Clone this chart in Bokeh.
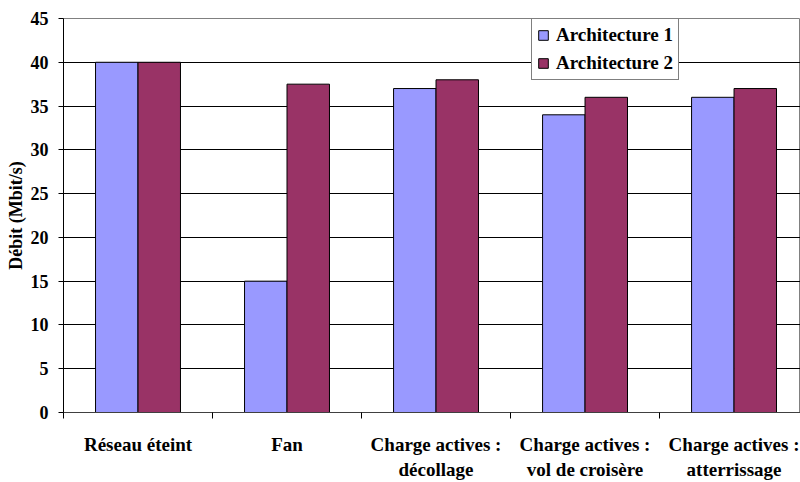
from bokeh.plotting import figure
from bokeh.models import ColumnDataSource, FixedTicker, Legend, LegendItem, Range1d
from bokeh.transform import dodge
from bokeh.embed import file_html
from bokeh.resources import INLINE

categories = ["Réseau éteint", "Fan", "Charge actives :\ndécollage",
              "Charge actives :\nvol de croisère", "Charge actives :\natterrissage"]
arch1 = [40, 15, 37, 34, 36]
arch2 = [40, 37.5, 38, 36, 37]
y_ticks = [0, 5, 10, 15, 20, 25, 30, 35, 40, 45]

FONT = "Liberation Serif"
idx = list(range(len(categories)))
src = ColumnDataSource(dict(x=idx, a1=arch1, a2=arch2))

p = figure(width=800, height=482, output_backend="svg", toolbar_location=None,
           x_range=Range1d(-0.5, 4.446), y_range=Range1d(0, 45),
           min_border_left=63, min_border_right=0, min_border_top=18, min_border_bottom=70)
p.background_fill_color = "white"
p.border_fill_color = "white"
p.outline_line_color = "#808080"

bw = 0.285
r1 = p.vbar(x=dodge("x", -bw / 2, range=p.x_range), top="a1", width=bw, source=src,
            fill_color="#9999FF", line_color="black", line_width=1)
r2 = p.vbar(x=dodge("x", bw / 2, range=p.x_range), top="a2", width=bw, source=src,
            fill_color="#993366", line_color="black", line_width=1)

# grid
p.xgrid.visible = False
p.ygrid.ticker = FixedTicker(ticks=y_ticks[1:-1])
p.ygrid.grid_line_color = "black"
p.ygrid.grid_line_width = 1
p.ygrid.level = "underlay"

# y axis
p.yaxis.ticker = FixedTicker(ticks=y_ticks)
p.yaxis.axis_label = "Débit (Mbit/s)"
p.yaxis.axis_label_text_font = FONT
p.yaxis.axis_label_text_font_style = "bold"
p.yaxis.axis_label_text_font_size = "18px"
p.yaxis.axis_label_standoff = 2
p.yaxis.major_label_text_font = FONT
p.yaxis.major_label_text_font_style = "bold"
p.yaxis.major_label_text_font_size = "18px"
p.yaxis.major_label_standoff = 10
p.yaxis.major_tick_in = 0
p.yaxis.major_tick_out = 5
p.yaxis.minor_tick_line_color = None
p.yaxis.axis_line_color = "black"
p.yaxis.major_tick_line_color = "black"
p.yaxis.major_label_text_color = "black"
p.yaxis.axis_label_text_color = "black"

# x axis
p.xaxis.ticker = FixedTicker(ticks=idx, minor_ticks=[i - 0.5 for i in idx] + [len(idx) - 0.5])
p.xaxis.major_label_overrides = {i: c for i, c in enumerate(categories)}
p.xaxis.major_tick_line_color = None
p.xaxis.minor_tick_in = 0
p.xaxis.minor_tick_out = 6
p.xaxis.minor_tick_line_color = "black"
p.xaxis.axis_line_color = "#404040"
p.xaxis.major_label_text_font = FONT
p.xaxis.major_label_text_font_style = "bold"
p.xaxis.major_label_text_font_size = "19px"
p.xaxis.major_label_text_color = "black"
p.xaxis.major_label_standoff = 15

legend = Legend(items=[LegendItem(label="Architecture 1", renderers=[r1]),
                       LegendItem(label="Architecture 2", renderers=[r2])],
                location=(468, 332), orientation="vertical")
legend.label_text_font = FONT
legend.label_text_font_style = "bold"
legend.label_text_font_size = "19px"
legend.label_text_color = "black"
legend.glyph_width = 12
legend.glyph_height = 12
legend.spacing = 6
legend.padding = 5
legend.margin = 0
legend.label_standoff = 7
legend.border_line_color = "black"
legend.border_line_width = 1
legend.background_fill_color = "white"
legend.background_fill_alpha = 1
p.add_layout(legend)

open("out.html", "w").write(file_html(p, INLINE))
